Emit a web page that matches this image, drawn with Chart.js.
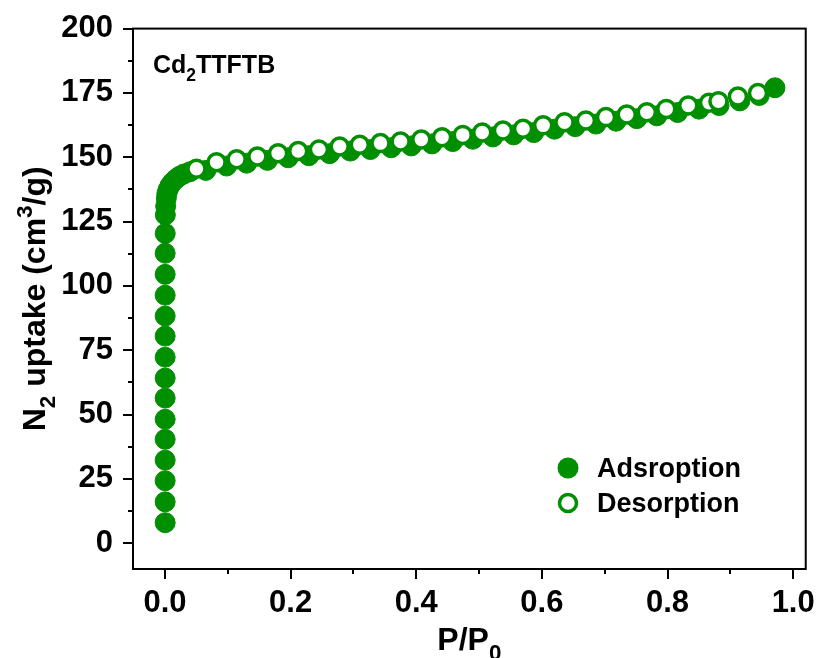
<!DOCTYPE html>
<html>
<head>
<meta charset="utf-8">
<script src="https://cdn.jsdelivr.net/npm/chart.js@4.4.0/dist/chart.umd.min.js"></script>
<style>
  html, body { margin: 0; padding: 0; background: #fff; }
</style>
</head>
<body>
<canvas id="isoChart" width="821" height="658"></canvas>
<script>
// adsorption branch (P/P0, cm3/g)
const adsP = [0.0002, 0.0002, 0.0002, 0.0002, 0.0002, 0.0002, 0.0002, 0.0002, 0.0002, 0.0002,
              0.0002, 0.0002, 0.0002, 0.0002, 0.0003, 0.0005, 0.001, 0.002, 0.003, 0.005,
              0.008, 0.012, 0.017, 0.023, 0.030, 0.040, 0.065, 0.098, 0.130, 0.163,
              0.196, 0.229, 0.262, 0.295, 0.327, 0.360, 0.392, 0.425, 0.458, 0.490,
              0.522, 0.555, 0.587, 0.620, 0.653, 0.686, 0.718, 0.751, 0.783, 0.816,
              0.850, 0.882, 0.915, 0.946, 0.971];
const adsV = [8.0, 16.1, 24.3, 32.3, 40.4, 48.2, 56.4, 64.2, 72.3, 80.5,
              88.3, 96.4, 104.5, 112.7, 120.4, 127.6, 131.0, 134.0, 136.0, 137.5,
              139.0, 140.3, 141.5, 142.6, 143.5, 144.4, 144.9, 146.6, 147.7, 148.8,
              149.8, 150.6, 151.4, 152.4, 153.0, 153.7, 154.4, 155.2, 156.1, 157.0,
              157.9, 158.7, 159.6, 160.9, 161.9, 162.9, 164.0, 165.0, 166.1, 167.4,
              168.7, 170.1, 171.9, 174.0, 177.0];
// desorption branch
const desP = [0.050, 0.082, 0.114, 0.147, 0.180, 0.212, 0.245, 0.278, 0.310, 0.343,
              0.375, 0.408, 0.441, 0.474, 0.505, 0.538, 0.570, 0.602, 0.636, 0.670,
              0.702, 0.735, 0.767, 0.798, 0.833, 0.866, 0.881, 0.912, 0.944];
const desV = [145.5, 148.1, 149.2, 150.3, 151.6, 152.4, 153.0, 154.2, 154.9, 155.5,
              156.1, 156.9, 157.8, 158.7, 159.6, 160.4, 161.1, 162.4, 163.6, 164.3,
              165.6, 166.6, 167.5, 168.8, 170.1, 171.2, 171.8, 173.6, 175.0];

const seriesLabels = ['Adsroption', 'Desorption'];
const xTicks = [0, 0.2, 0.4, 0.6, 0.8, 1.0];
const xMinorTicks = [0.1, 0.3, 0.5, 0.7, 0.9];
const yTicks = [0, 25, 50, 75, 100, 125, 150, 175, 200];
const yMinorTicks = [12.5, 37.5, 62.5, 87.5, 112.5, 137.5, 162.5, 187.5];

const FONT = "'Liberation Sans', Arial, sans-serif";
const GREEN = '#008f00';

function toPoints(xs, ys) {
    return xs.map((x, i) => ({ x: x, y: ys[i] }));
}

function runFont(r, size) {
    const s = r.k ? size * 0.7 : size;
    return 'bold ' + s + 'px ' + FONT;
}

// draws text with subscript / superscript pieces
function drawRuns(ctx, runs, x, y, size, align) {
    let total = 0;
    runs.forEach(r => {
        ctx.font = runFont(r, size);
        total += ctx.measureText(r.t).width;
    });
    let cx = align === 'center' ? x - total / 2 : x;
    ctx.textAlign = 'left';
    ctx.textBaseline = 'alphabetic';
    runs.forEach(r => {
        ctx.font = runFont(r, size);
        let dy = 0;
        if (r.k === 'sub') dy = size * 0.3;
        if (r.k === 'sup') dy = -size * 0.42;
        ctx.fillText(r.t, cx, y + dy);
        cx += ctx.measureText(r.t).width;
    });
}

const framePlugin = {
    id: 'frame',
    afterDraw(chart) {
        const ctx = chart.ctx;
        const a = chart.chartArea;
        const xs = chart.scales.x;
        const ys = chart.scales.y;
        ctx.save();
        ctx.strokeStyle = '#000';
        ctx.lineWidth = 2;
        ctx.strokeRect(a.left, a.top, a.right - a.left, a.bottom - a.top);

        ctx.beginPath();
        xTicks.forEach(v => {
            const px = Math.round(xs.getPixelForValue(v));
            ctx.moveTo(px, a.bottom); ctx.lineTo(px, a.bottom + 10);
        });
        xMinorTicks.forEach(v => {
            const px = Math.round(xs.getPixelForValue(v));
            ctx.moveTo(px, a.bottom); ctx.lineTo(px, a.bottom + 5);
        });
        yTicks.forEach(v => {
            const py = Math.round(ys.getPixelForValue(v));
            ctx.moveTo(a.left, py); ctx.lineTo(a.left - 10, py);
        });
        yMinorTicks.forEach(v => {
            const py = Math.round(ys.getPixelForValue(v));
            ctx.moveTo(a.left, py); ctx.lineTo(a.left - 5, py);
        });
        ctx.stroke();

        ctx.fillStyle = '#000';
        // axis titles
        drawRuns(ctx, [{ t: 'P/P' }, { t: '0', k: 'sub' }], (a.left + a.right) / 2, 650, 32, 'center');
        ctx.save();
        ctx.translate(45, (a.top + a.bottom) / 2);
        ctx.rotate(-Math.PI / 2);
        drawRuns(ctx, [{ t: 'N' }, { t: '2', k: 'sub' }, { t: ' uptake (cm' }, { t: '3', k: 'sup' }, { t: '/g)' }], 0, 0, 32, 'center');
        ctx.restore();

        // sample name
        drawRuns(ctx, [{ t: 'Cd' }, { t: '2', k: 'sub' }, { t: 'TTFTB' }], 153, 73, 25, 'left');

        // legend
        const lx = 568;
        ctx.fillStyle = GREEN;
        ctx.beginPath();
        ctx.arc(lx, 468, 10.5, 0, Math.PI * 2);
        ctx.fill();
        ctx.beginPath();
        ctx.arc(lx, 503, 8.5, 0, Math.PI * 2);
        ctx.fillStyle = '#fff';
        ctx.fill();
        ctx.lineWidth = 3.5;
        ctx.strokeStyle = GREEN;
        ctx.stroke();
        ctx.fillStyle = '#000';
        ctx.font = 'bold 27px ' + FONT;
        ctx.textAlign = 'left';
        ctx.textBaseline = 'alphabetic';
        ctx.fillText(chart.data.datasets[0].label, 597, 477);
        ctx.fillText(chart.data.datasets[1].label, 597, 512);
        ctx.restore();
    }
};

function createIsothermChart() {
    const ctx = document.getElementById('isoChart').getContext('2d');
    new Chart(ctx, {
        type: 'scatter',
        data: {
            datasets: [{
                label: seriesLabels[0],
                data: toPoints(adsP, adsV),
                pointRadius: 10,
                pointBorderWidth: 1,
                pointBackgroundColor: GREEN,
                pointBorderColor: GREEN,
                order: 2
            }, {
                label: seriesLabels[1],
                data: toPoints(desP, desV),
                pointRadius: 8.5,
                pointBorderWidth: 3.5,
                pointBackgroundColor: '#fff',
                pointBorderColor: GREEN,
                order: 1
            }]
        },
        options: {
            responsive: false,
            animation: false,
            layout: { padding: { left: 0, top: 28, right: 15, bottom: 0 } },
            plugins: {
                legend: { display: false },
                tooltip: { enabled: false }
            },
            scales: {
                x: {
                    type: 'linear',
                    min: -0.051,
                    max: 1.02,
                    grid: { display: false, tickLength: 10 },
                    border: { display: false },
                    afterBuildTicks: s => { s.ticks = xTicks.map(v => ({ value: v })); },
                    afterFit: s => { s.height = 89; },
                    ticks: {
                        padding: 6,
                        color: '#000',
                        maxRotation: 0,
                        autoSkip: false,
                        font: { family: FONT, size: 31, weight: 'bold' },
                        callback: v => v.toFixed(1)
                    }
                },
                y: {
                    type: 'linear',
                    min: -10,
                    max: 200,
                    grid: { display: false, tickLength: 10 },
                    border: { display: false },
                    afterBuildTicks: s => { s.ticks = yTicks.map(v => ({ value: v })); },
                    afterFit: s => { s.width = 133; },
                    ticks: {
                        padding: 10,
                        color: '#000',
                        font: { family: FONT, size: 31, weight: 'bold' },
                        callback: v => String(v)
                    }
                }
            }
        },
        plugins: [framePlugin]
    });
}

createIsothermChart();
</script>
</body>
</html>
